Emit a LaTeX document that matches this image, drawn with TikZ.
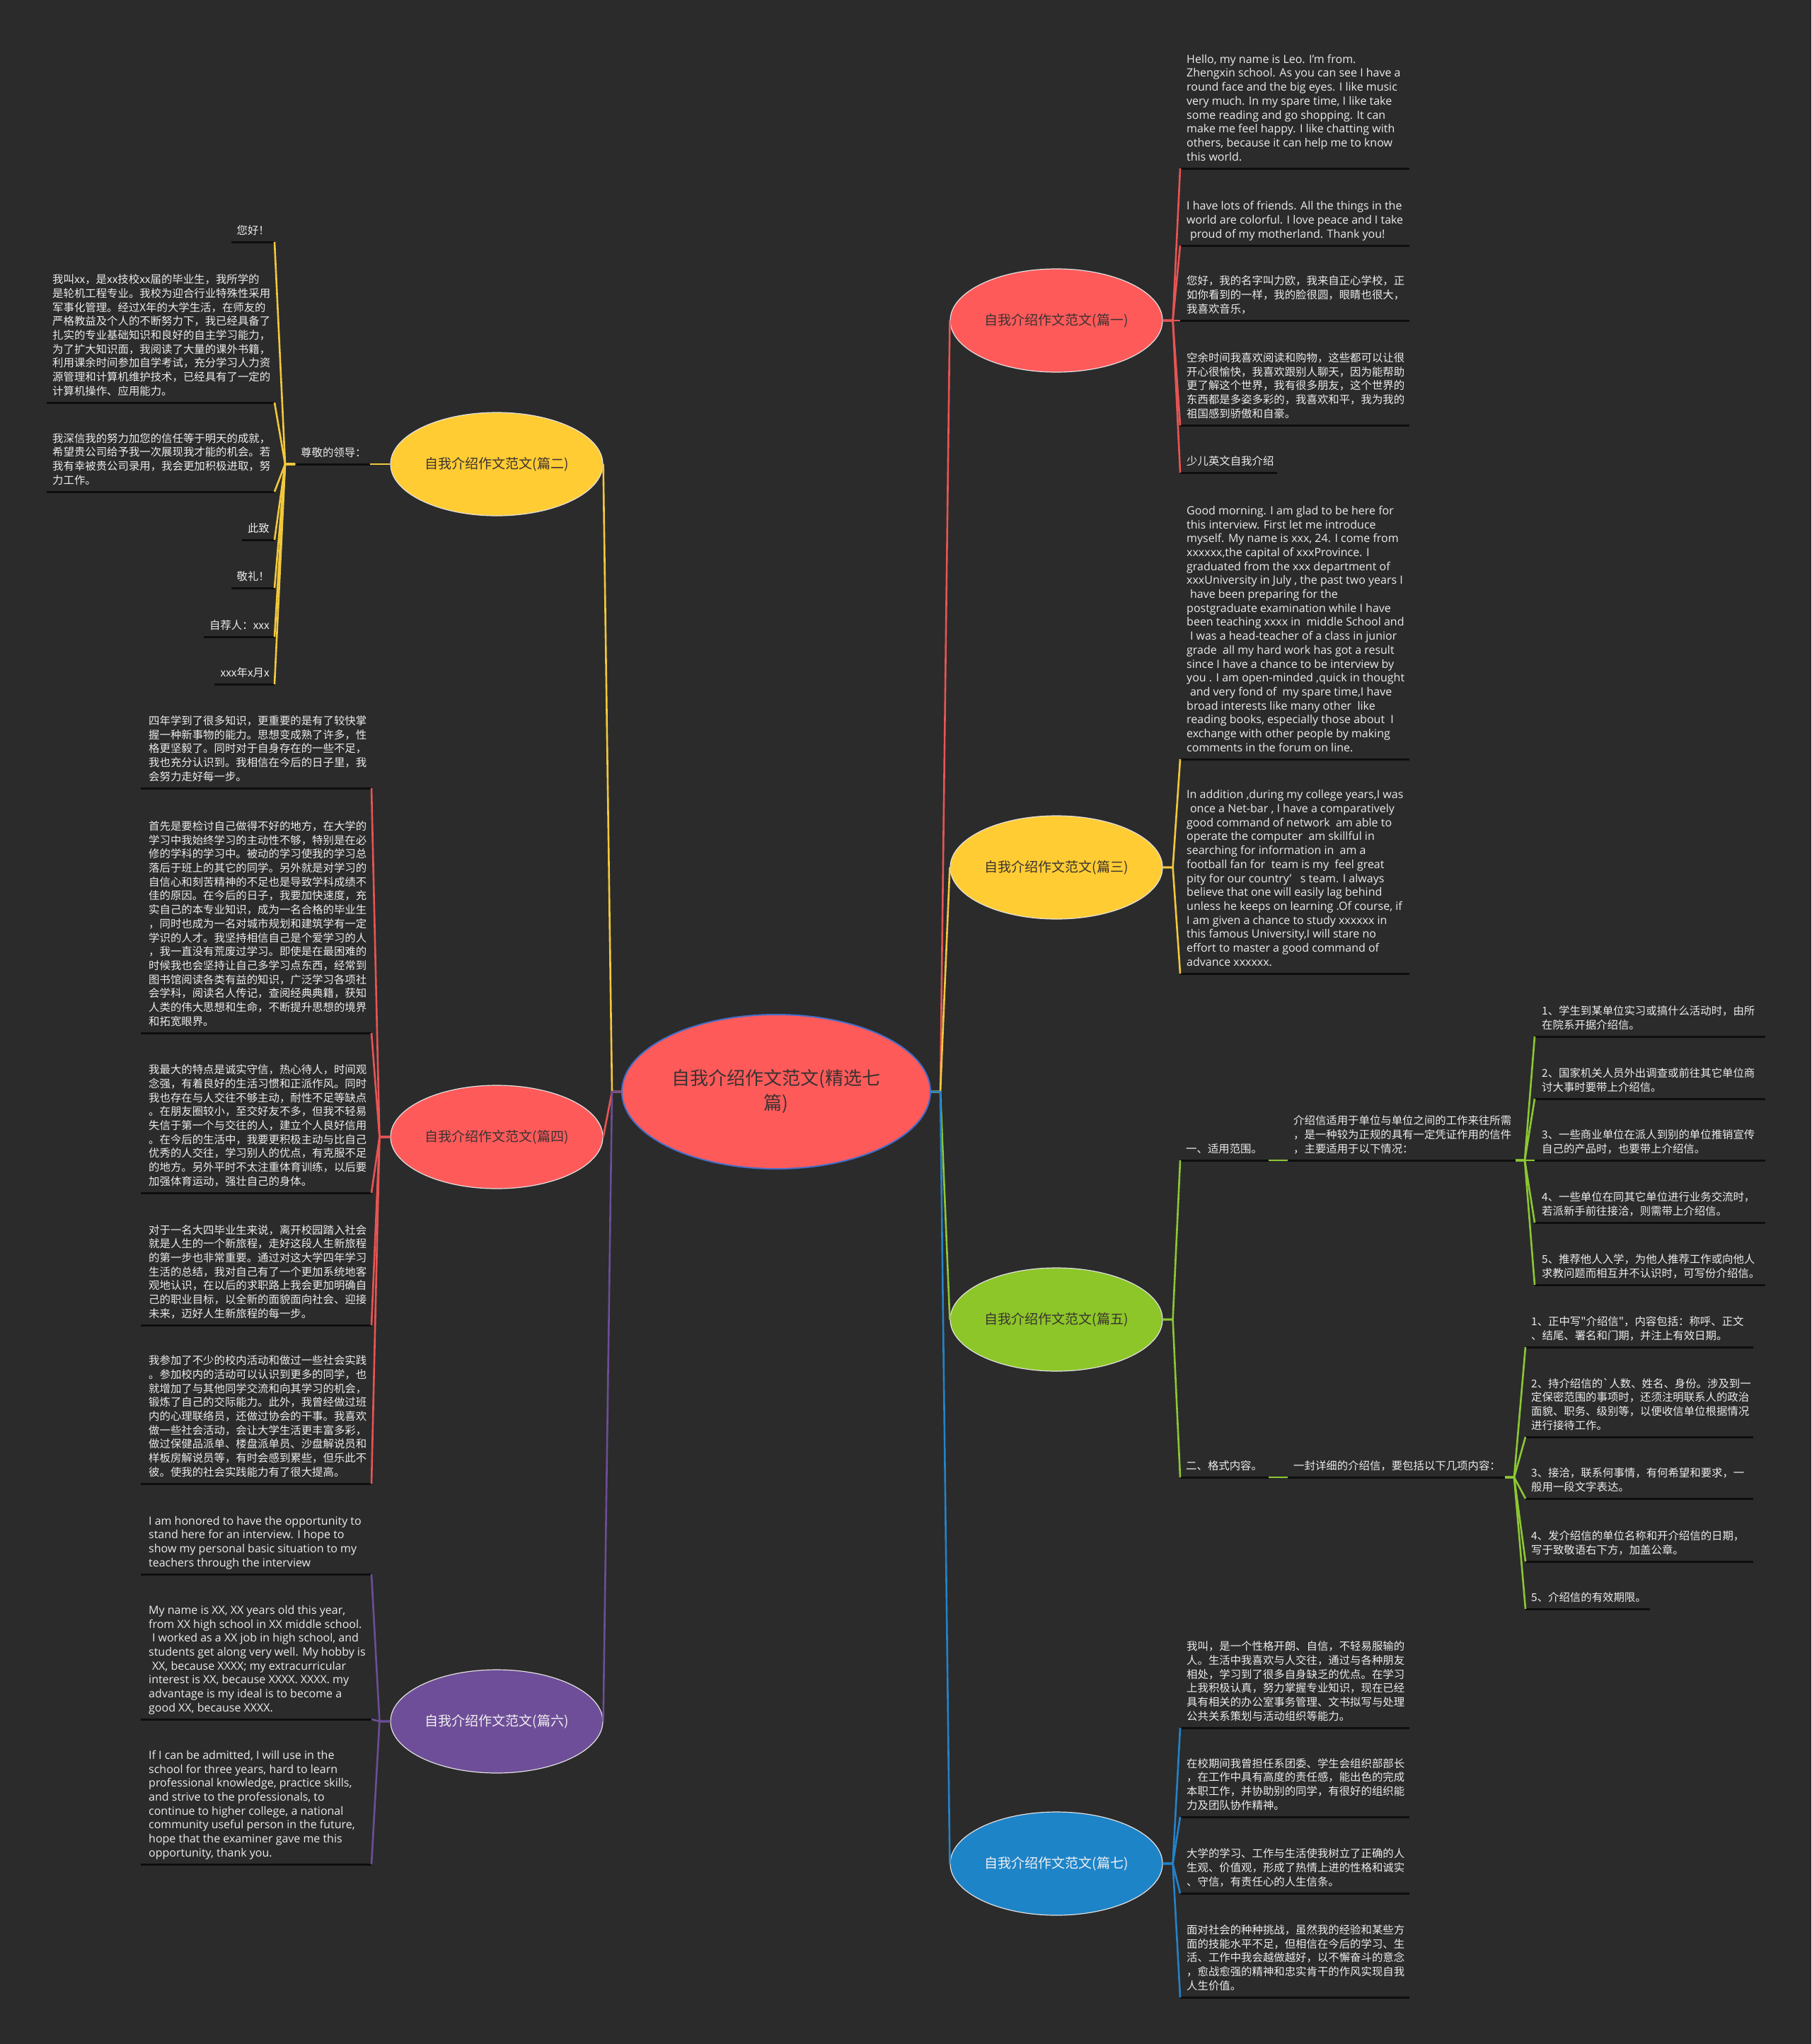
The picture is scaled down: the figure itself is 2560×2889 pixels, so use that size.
\documentclass[tikz,border=0pt]{standalone}
\usepackage{fontspec}
\setmainfont{Open Sans}
\newfontfamily\cjk{Noto Sans CJK SC}
\usetikzlibrary{shapes.geometric}
\definecolor{bg}{RGB}{43,43,43}
\definecolor{cred}{RGB}{255,90,90}
\definecolor{lred}{RGB}{232,84,84}
\definecolor{cyel}{RGB}{255,204,51}
\definecolor{lyel}{RGB}{242,200,60}
\definecolor{cgrn}{RGB}{140,198,40}
\definecolor{lgrn}{RGB}{140,200,50}
\definecolor{cblu}{RGB}{30,132,200}
\definecolor{lblu}{RGB}{36,130,200}
\definecolor{cpur}{RGB}{110,78,152}
\definecolor{lpur}{RGB}{108,78,150}
\definecolor{ulcol}{RGB}{14,14,14}
\definecolor{leaftext}{RGB}{236,236,236}
\definecolor{nodetext}{RGB}{58,50,50}
\definecolor{lighttext}{RGB}{240,240,240}
\definecolor{cborder}{RGB}{70,110,200}
\definecolor{bborder}{RGB}{225,225,225}
\newcommand\ls{\hspace*{0.3em}}
\newcommand\leaf[8]{%
  \coordinate (#1L) at (#5,#7);
  \coordinate (#1R) at (#6,#7);
  \draw[uline] (#1L) -- (#1R);
  \node[#2, anchor=#3] (#1) at (#4,#7-4.7) {#8};
}
\begin{document}
\begin{tikzpicture}[x=1pt,y=-1pt,
  leafbase/.style={inner sep=0pt, text=leaftext, align=left, execute at end node=\strut},
  en/.style={leafbase, font=\fontsize{16}{19.7}\selectfont},
  zh/.style={leafbase, font=\cjk\fontsize{15.4}{19.7}\selectfont},
  zhr/.style={zh, align=right},
  uline/.style={draw=ulcol, line width=3pt},
  con/.style={line width=2.6pt, line join=round},
  branch/.style={ellipse, minimum width=300pt, minimum height=146pt, inner sep=0pt, draw=bborder, line width=1.2pt, text=nodetext, font=\cjk\fontsize{19}{23}\selectfont},
  hub/.style={ellipse, minimum width=436pt, minimum height=218pt, inner sep=0pt, fill=cred, draw=cborder, line width=2pt, text=nodetext, align=center, font=\cjk\fontsize{26}{35}\selectfont}
]
\fill[bg] (0,0) rectangle (2560,2889);
\useasboundingbox (0,0) rectangle (2560,2889);

% ---------- central and branch nodes ----------
\node[hub] (c) at (1097,1543) {自我介绍作文范文(精选七\\篇)};
\node[branch, fill=cred] (b1) at (1493,453) {自我介绍作文范文(篇一)};
\node[branch, fill=cyel] (b3) at (1493,1226) {自我介绍作文范文(篇三)};
\node[branch, fill=cgrn] (b5) at (1493,1865) {自我介绍作文范文(篇五)};
\node[branch, fill=cblu, text=lighttext] (b7) at (1493,2634) {自我介绍作文范文(篇七)};
\node[branch, fill=cyel] (b2) at (702,656) {自我介绍作文范文(篇二)};
\node[branch, fill=cred] (b4) at (702,1607) {自我介绍作文范文(篇四)};
\node[branch, fill=cpur, text=lighttext] (b6) at (702,2433) {自我介绍作文范文(篇六)};

\draw[con, lred] (c.east) -- ++(13,0) -- (b1.west);
\draw[con, lyel] (c.east) -- ++(13,0) -- (b3.west);
\draw[con, lgrn] (c.east) -- ++(13,0) -- (b5.west);
\draw[con, lblu] (c.east) -- ++(13,0) -- (b7.west);
\draw[con, lyel] (c.west) -- ++(-13,0) -- (b2.east);
\draw[con, lred] (c.west) -- ++(-13,0) -- (b4.east);
\draw[con, lpur] (c.west) -- ++(-13,0) -- (b6.east);

% ---------- 篇一 ----------
\leaf{a1}{en}{south west}{1677}{1668}{1992}{238}{Hello, my name is Leo. I'm from.\\Zhengxin school. As you can see I have a\\round face and the big eyes. I like music\\very much. In my spare time, I like take\\some reading and go shopping. It can\\make me feel happy. I like chatting with\\others, because it can help me to know\\this world.}
\leaf{a2}{en}{south west}{1677}{1668}{1992}{347}{I have lots of friends. All the things in the\\world are colorful. I love peace and I take\\\ls proud of my motherland. Thank you!}
\leaf{a3}{zh}{south west}{1677}{1668}{1992}{453}{您好，我的名字叫力欧，我来自正心学校，正\\如你看到的一样，我的脸很圆，眼睛也很大，\\我喜欢音乐，}
\leaf{a4}{zh}{south west}{1677}{1668}{1992}{601}{空余时间我喜欢阅读和购物，这些都可以让很\\开心很愉快，我喜欢跟别人聊天，因为能帮助\\更了解这个世界，我有很多朋友，这个世界的\\东西都是多姿多彩的，我喜欢和平，我为我的\\祖国感到骄傲和自豪。}
\leaf{a5}{zh}{south west}{1677}{1668}{1805}{668}{少儿英文自我介绍}
\foreach \n in {a1,a2,a3,a4,a5} \draw[con, lred] (b1.east) -- ++(14,0) -- (\n L);

% ---------- 篇三 ----------
\leaf{c1}{en}{south west}{1677}{1668}{1992}{1073}{Good morning. I am glad to be here for\\this interview. First let me introduce\\myself. My name is xxx, 24. I come from\\xxxxxx,the capital of xxxProvince. I\\graduated from the xxx department of\\xxxUniversity in July , the past two years I\\\ls have been preparing for the\\postgraduate examination while I have\\been teaching xxxx in\ \ middle School and\\\ls I was a head-teacher of a class in junior\\grade\ \ all my hard work has got a result\\since I have a chance to be interview by\\you . I am open-minded ,quick in thought\\\ls and very fond of\ \ my spare time,I have\\broad interests like many other\ \ like\\reading books, especially those about\ \ I\\exchange with other people by making\\comments in the forum on line.}
\leaf{c2}{en}{south west}{1677}{1668}{1992}{1376}{In addition ,during my college years,I was\\\ls once a Net-bar , I have a comparatively\\good command of network\ \ am able to\\operate the computer\ \ am skillful in\\searching for information in\ \ am a\\football fan for\ \ team is my\ \ feel great\\pity for our country’\ \ \ s team. I always\\believe that one will easily lag behind\\unless he keeps on learning .Of course, if\\I am given a chance to study xxxxxx in\\this famous University,I will stare no\\effort to master a good command of\\advance xxxxxx.}
\foreach \n in {c1,c2} \draw[con, lyel] (b3.east) -- ++(14,0) -- (\n L);

% ---------- 篇五 ----------
\leaf{s1}{zh}{south west}{1676}{1668}{1793}{1640}{一、适用范围。}
\leaf{t1}{zh}{south west}{1828}{1820}{2142}{1640}{介绍信适用于单位与单位之间的工作来往所需\\，是一种较为正规的具有一定凭证作用的信件\\，主要适用于以下情况：}
\leaf{u1}{zh}{south west}{2179}{2169}{2495}{1465}{1、学生到某单位实习或搞什么活动时，由所\\在院系开据介绍信。}
\leaf{u2}{zh}{south west}{2179}{2169}{2495}{1553}{2、国家机关人员外出调查或前往其它单位商\\讨大事时要带上介绍信。}
\leaf{u3}{zh}{south west}{2179}{2169}{2495}{1640}{3、一些商业单位在派人到别的单位推销宣传\\自己的产品时，也要带上介绍信。}
\leaf{u4}{zh}{south west}{2179}{2169}{2495}{1728}{4、一些单位在同其它单位进行业务交流时，\\若派新手前往接洽，则需带上介绍信。}
\leaf{u5}{zh}{south west}{2179}{2169}{2495}{1816}{5、推荐他人入学，为他人推荐工作或向他人\\求教问题而相互并不认识时，可写份介绍信。}
\leaf{s2}{zh}{south west}{1676}{1668}{1793}{2088}{二、格式内容。}
\leaf{t2}{zh}{south west}{1828}{1820}{2127}{2088}{一封详细的介绍信，要包括以下几项内容：}
\leaf{v1}{zh}{south west}{2164}{2156}{2478}{1904}{1、正中写"介绍信"，内容包括：称呼、正文\\、结尾、署名和门期，并注上有效日期。}
\leaf{v2}{zh}{south west}{2164}{2156}{2478}{2031}{2、持介绍信的`人数、姓名、身份。涉及到一\\定保密范围的事项时，还须注明联系人的政治\\面貌、职务、级别等，以便收信单位根据情况\\进行接待工作。}
\leaf{v3}{zh}{south west}{2164}{2156}{2478}{2118}{3、接洽，联系何事情，有何希望和要求，一\\般用一段文字表达。}
\leaf{v4}{zh}{south west}{2164}{2156}{2478}{2207}{4、发介绍信的单位名称和开介绍信的日期，\\写于致敬语右下方，加盖公章。}
\leaf{v5}{zh}{south west}{2164}{2156}{2332}{2274}{5、介绍信的有效期限。}
\foreach \n in {s1,s2} \draw[con, lgrn] (b5.east) -- ++(14,0) -- (\n L);
\draw[con, lgrn] (s1R) -- (t1L);
\draw[con, lgrn] (s2R) -- (t2L);
\foreach \n in {u1,u2,u3,u4,u5} \draw[con, lgrn] (t1R) -- ++(13,0) -- (\n L);
\foreach \n in {v1,v2,v3,v4,v5} \draw[con, lgrn] (t2R) -- ++(13,0) -- (\n L);

% ---------- 篇七 ----------
\leaf{g1}{zh}{south west}{1677}{1668}{1992}{2442}{我叫，是一个性格开朗、自信，不轻易服输的\\人。生活中我喜欢与人交往，通过与各种朋友\\相处，学习到了很多自身缺乏的优点。在学习\\上我积极认真，努力掌握专业知识，现在已经\\具有相关的办公室事务管理、文书拟写与处理\\公共关系策划与活动组织等能力。}
\leaf{g2}{zh}{south west}{1677}{1668}{1992}{2568}{在校期间我曾担任系团委、学生会组织部部长\\，在工作中具有高度的责任感，能出色的完成\\本职工作，并协助别的同学，有很好的组织能\\力及团队协作精神。}
\leaf{g3}{zh}{south west}{1677}{1668}{1992}{2676}{大学的学习、工作与生活使我树立了正确的人\\生观、价值观，形成了热情上进的性格和诚实\\、守信，有责任心的人生信条。}
\leaf{g4}{zh}{south west}{1677}{1668}{1992}{2823}{面对社会的种种挑战，虽然我的经验和某些方\\面的技能水平不足，但相信在今后的学习、生\\活、工作中我会越做越好，以不懈奋斗的意念\\，愈战愈强的精神和忠实肯干的作风实现自我\\人生价值。}
\foreach \n in {g1,g2,g3,g4} \draw[con, lblu] (b7.east) -- ++(14,0) -- (\n L);

% ---------- 篇二 ----------
\leaf{p0}{zh}{south west}{425}{417}{523}{656}{尊敬的领导：}
\leaf{p1}{zhr}{south east}{381}{327}{388}{342}{您好！}
\leaf{p2}{zh}{south west}{74}{66}{388}{569}{我叫xx，是xx技校xx届的毕业生，我所学的\\是轮机工程专业。我校为迎合行业特殊性采用\\军事化管理。经过X年的大学生活，在师友的\\严格教益及个人的不断努力下，我已经具备了\\扎实的专业基础知识和良好的自主学习能力，\\为了扩大知识面，我阅读了大量的课外书籍，\\利用课余时间参加自学考试，充分学习人力资\\源管理和计算机维护技术，已经具有了一定的\\计算机操作、应用能力。}
\leaf{p3}{zh}{south west}{74}{66}{388}{695}{我深信我的努力加您的信任等于明天的成就，\\希望贵公司给予我一次展现我才能的机会。若\\我有幸被贵公司录用，我会更加积极进取，努\\力工作。}
\leaf{p4}{zhr}{south east}{381}{342}{388}{763}{此致}
\leaf{p5}{zhr}{south east}{381}{327}{388}{831}{敬礼！}
\leaf{p6}{zhr}{south east}{381}{288}{388}{900}{自荐人：xxx}
\leaf{p7}{zhr}{south east}{381}{303}{388}{967}{xxx年x月x}
\draw[con, lyel] (b2.west) -- (p0R);
\foreach \n in {p1,p2,p3,p4,p5,p6,p7} \draw[con, lyel] (p0L) -- ++(-14,0) -- (\n R);

% ---------- 篇四 ----------
\leaf{q1}{zh}{south west}{210}{199}{525}{1114}{四年学到了很多知识，更重要的是有了较快掌\\握一种新事物的能力。思想变成熟了许多，性\\格更坚毅了。同时对于自身存在的一些不足，\\我也充分认识到。我相信在今后的日子里，我\\会努力走好每一步。}
\leaf{q2}{zh}{south west}{210}{199}{525}{1460}{首先是要检讨自己做得不好的地方，在大学的\\学习中我始终学习的主动性不够，特别是在必\\修的学科的学习中。被动的学习使我的学习总\\落后于班上的其它的同学。另外就是对学习的\\自信心和刻苦精神的不足也是导致学科成绩不\\佳的原因。在今后的日子，我要加快速度，充\\实自己的本专业知识，成为一名合格的毕业生\\，同时也成为一名对城市规划和建筑学有一定\\学识的人才。我坚持相信自己是个爱学习的人\\，我一直没有荒废过学习。即使是在最困难的\\时候我也会坚持让自己多学习点东西，经常到\\图书馆阅读各类有益的知识，广泛学习各项社\\会学科，阅读名人传记，查阅经典典籍，获知\\人类的伟大思想和生命，不断提升思想的境界\\和拓宽眼界。}
\leaf{q3}{zh}{south west}{210}{199}{525}{1686}{我最大的特点是诚实守信，热心待人，时间观\\念强，有着良好的生活习惯和正派作风。同时\\我也存在与人交往不够主动，耐性不足等缺点\\。在朋友圈较小，至交好友不多，但我不轻易\\失信于第一个与交往的人，建立个人良好信用\\。在今后的生活中，我要更积极主动与比自己\\优秀的人交往，学习别人的优点，有克服不足\\的地方。另外平时不太注重体育训练，以后要\\加强体育运动，强壮自己的身体。}
\leaf{q4}{zh}{south west}{210}{199}{525}{1873}{对于一名大四毕业生来说，离开校园踏入社会\\就是人生的一个新旅程，走好这段人生新旅程\\的第一步也非常重要。通过对这大学四年学习\\生活的总结，我对自己有了一个更加系统地客\\观地认识，在以后的求职路上我会更加明确自\\己的职业目标，以全新的面貌面向社会、迎接\\未来，迈好人生新旅程的每一步。}
\leaf{q5}{zh}{south west}{210}{199}{525}{2097}{我参加了不少的校内活动和做过一些社会实践\\。参加校内的活动可以认识到更多的同学，也\\就增加了与其他同学交流和向其学习的机会，\\锻炼了自己的交际能力。此外，我曾经做过班\\内的心理联络员，还做过协会的干事。我喜欢\\做一些社会活动，会让大学生活更丰富多彩，\\做过保健品派单、楼盘派单员、沙盘解说员和\\样板房解说员等，有时会感到累些，但乐此不\\彼。使我的社会实践能力有了很大提高。}
\foreach \n in {q1,q2,q3,q4,q5} \draw[con, lred] (b4.west) -- ++(-15,0) -- (\n R);

% ---------- 篇六 ----------
\leaf{w1}{en}{south west}{210}{199}{525}{2225}{I am honored to have the opportunity to\\stand here for an interview. I hope to\\show my personal basic situation to my\\teachers through the interview}
\leaf{w2}{en}{south west}{210}{199}{525}{2430}{My name is XX, XX years old this year,\\from XX high school in XX middle school.\\\ls I worked as a XX job in high school, and\\students get along very well. My hobby is\\\ls XX, because XXXX; my extracurricular\\interest is XX, because XXXX. XXXX. my\\advantage is my ideal is to become a\\good XX, because XXXX.}
\leaf{w3}{en}{south west}{210}{199}{525}{2635}{If I can be admitted, I will use in the\\school for three years, hard to learn\\professional knowledge, practice skills,\\and strive to the professionals, to\\continue to higher college, a national\\community useful person in the future,\\hope that the examiner gave me this\\opportunity, thank you.}
\foreach \n in {w1,w2,w3} \draw[con, lpur] (b6.west) -- ++(-15,0) -- (\n R);
\end{tikzpicture}
\end{document}
